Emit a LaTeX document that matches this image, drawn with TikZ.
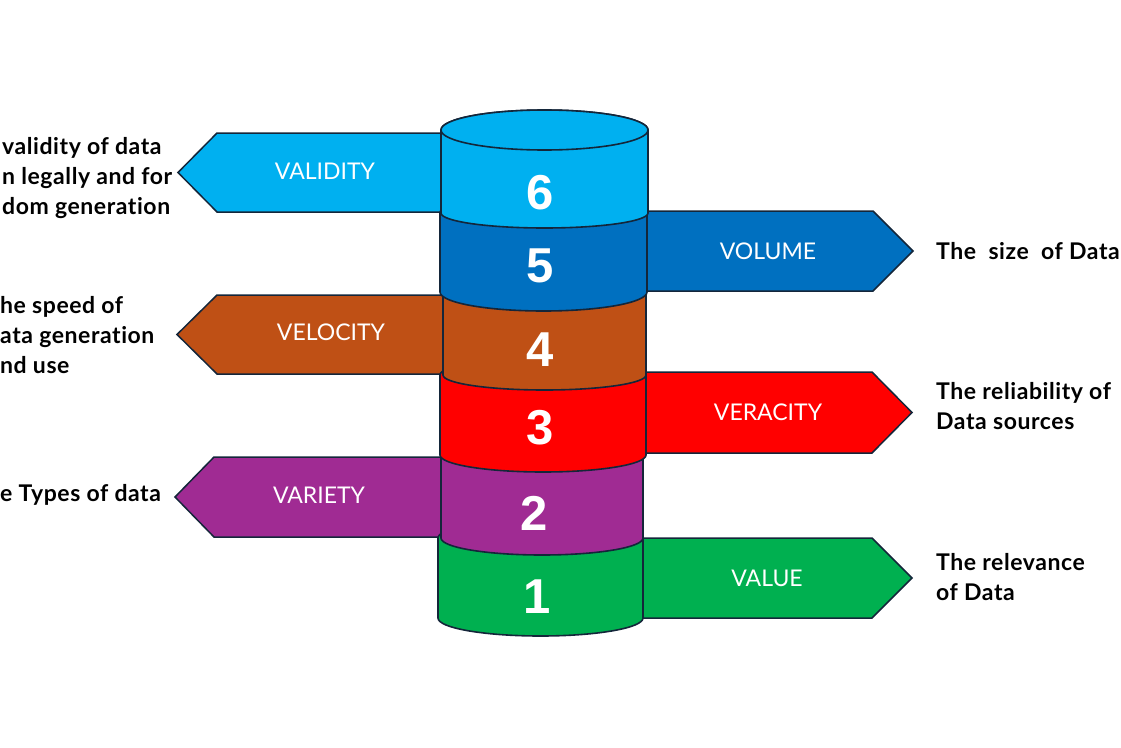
\documentclass[tikz,border=0pt]{standalone}
\usepackage{fontspec}
\setmainfont{Lato}[Ligatures=NoCommon]
\newfontfamily\numfont{Liberation Sans}
\newfontfamily\descfont{Lato}[Ligatures=NoCommon, LetterSpace=2.5]
\usepackage{tikz}

\definecolor{cvalidity}{HTML}{00B0F0}
\definecolor{cvolume}{HTML}{0070C0}
\definecolor{cvelocity}{HTML}{BF5015}
\definecolor{cveracity}{HTML}{FF0000}
\definecolor{cvariety}{HTML}{A02B93}
\definecolor{cvalue}{HTML}{00B050}
\definecolor{edgeline}{HTML}{14263A}

\begin{document}
\begin{tikzpicture}[x=1pt,y=-1pt,
	tag/.style={draw=edgeline, line width=1.5pt},
	seg/.style={draw=edgeline, line width=1.6pt},
	vname/.style={text=white, font=\fontsize{23}{23}\selectfont},
	num/.style={text=white, font=\numfont\bfseries\fontsize{49}{49}\selectfont},
	desc/.style={align=left, anchor=west, inner sep=0pt, font=\descfont\bfseries\fontsize{23}{30}\selectfont}]

	\useasboundingbox (0,0) rectangle (1121,747);

		% left arrows
	\draw [tag, fill=cvalidity] (470,133) -- (217,133) -- (178,172.5) -- (217,212) -- (470,212) -- cycle;
	\draw [tag, fill=cvelocity] (470,295) -- (217,295) -- (177,334.5) -- (217,374) -- (470,374) -- cycle;
	\draw [tag, fill=cvariety] (470,457) -- (214,457) -- (175,497) -- (214,537) -- (470,537) -- cycle;
		% right arrows
	\draw [tag, fill=cvolume] (620,211) -- (873,211) -- (913,251) -- (873,291) -- (620,291) -- cycle;
	\draw [tag, fill=cveracity] (620,372) -- (872,372) -- (912,412.5) -- (872,453) -- (620,453) -- cycle;
	\draw [tag, fill=cvalue] (620,538) -- (872,538) -- (912,578) -- (872,618) -- (620,618) -- cycle;

		% cylinder, bottom up
	\draw [seg, fill=cvalue] (438,538) -- (438,618) arc [start angle=180, end angle=0, x radius=102.5, y radius=18] -- (643,538) arc [start angle=0, end angle=-180, x radius=102.5, y radius=18] -- cycle;
	\draw [seg, fill=cvariety] (441,455) -- (441,538) arc [start angle=180, end angle=0, x radius=101, y radius=17] -- (643,455) arc [start angle=0, end angle=-180, x radius=101, y radius=17] -- cycle;
	\draw [seg, fill=cveracity] (440,375) -- (440,455) arc [start angle=180, end angle=0, x radius=103, y radius=17] -- (646,375) arc [start angle=0, end angle=-180, x radius=103, y radius=17] -- cycle;
	\draw [seg, fill=cvelocity] (443,292) -- (443,375) arc [start angle=180, end angle=0, x radius=101.5, y radius=15] -- (646,292) arc [start angle=0, end angle=-180, x radius=101.5, y radius=15] -- cycle;
	\draw [seg, fill=cvolume] (440,213) -- (440,292) arc [start angle=180, end angle=0, x radius=103.5, y radius=19] -- (647,213) arc [start angle=0, end angle=-180, x radius=103.5, y radius=19] -- cycle;
	\draw [seg, fill=cvalidity] (441,130) -- (441,213) arc [start angle=180, end angle=0, x radius=103.5, y radius=15] -- (648,130) arc [start angle=0, end angle=-180, x radius=103.5, y radius=20] -- cycle;
	\draw [seg, fill=cvalidity] (544.5,130) ellipse [x radius=103.5, y radius=20];

		% numbers
	\node (n1) [num] at (537,597) {1};
	\node (n2) [num] at (534,513) {2};
	\node (n3) [num] at (540,428) {3};
	\node (n4) [num] at (540,350) {4};
	\node (n5) [num] at (540,266) {5};
	\node (n6) [num] at (540,193) {6};

		% label
	\node (t-validity) [vname] at (325,171) {VALIDITY};
	\node (t-velocity) [vname] at (331,332) {VELOCITY};
	\node (t-variety) [vname] at (319,495) {VARIETY};
	\node (t-volume) [vname] at (768,251) {VOLUME};
	\node (t-veracity) [vname] at (768,412) {VERACITY};
	\node (t-value) [vname] at (767,578) {VALUE};

		% text
	\node (d-validity) [desc] at (2,178) {validity of data\\n legally and for\\dom generation};
	\node (d-velocity) [desc] at (0,335) {he speed of\\ata generation\\nd use};
	\node (d-variety) [desc] at (0,495) {e Types of data};
	\node (d-volume) [desc] at (936,251) {The\ \ size\ \ of Data};
	\node (d-veracity) [desc] at (936,406) {The reliability of\\Data sources};
	\node (d-value) [desc] at (936,577) {The relevance\\of Data};
\end{tikzpicture}
\end{document}
